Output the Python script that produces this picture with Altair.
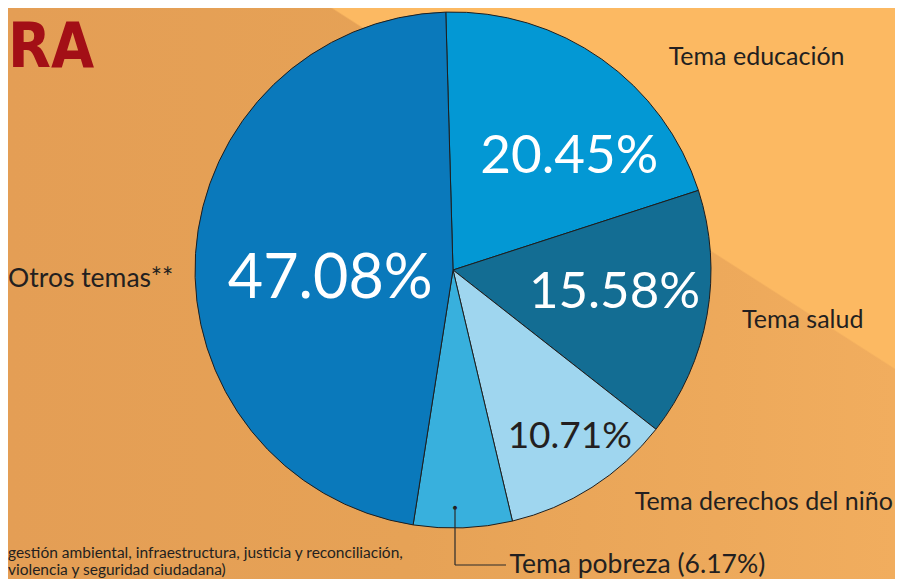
import math
import altair as alt
import pandas as pd

# ---------------- data ----------------
categories = ["Tema educación", "Tema salud", "Tema derechos del niño", "Tema pobreza", "Otros temas**"]
values = [20.45, 15.58, 10.71, 6.17, 47.08]
slice_colors = ["#0398d4", "#136d93", "#9fd6ef", "#38b0dd", "#0a79bb"]
footnote_1 = "gestión ambiental, infraestructura, justicia y reconciliación,"
footnote_2 = "violencia y seguridad ciudadana)"
title_text = "RA"

# ---------------- layout ----------------
W, H = 887, 571
CX, CY = 445, 262
R = 258
START_DEG = -1.6
FONT = "Lato"
TITLE_FONT = "Liberation Sans Narrow, DejaVu Sans Condensed, Liberation Sans, DejaVu Sans, sans-serif"
DARK = "#231f20"

total = sum(values)
start = math.radians(START_DEG) + 2 * math.pi
theta_scale = alt.Scale(domain=[0, total], range=[start, start + 2 * math.pi])

outer_labels = [f"{c} ({v:.2f}%)" if c == "Tema pobreza" else c for c, v in zip(categories, values)]
df = pd.DataFrame({
    "category": categories,
    "value": values,
    "order": list(range(len(values))),
    "pct": [f"{v:.2f}%" for v in values],
    "outer": outer_labels,
    "dot": ["●"] * len(values),
})
one = pd.DataFrame({"k": [0]})

# (radius, dx, dy, fontSize, color)
pct_layout = {
    "Tema educación": (160, 24, 34, 53, "white"),
    "Tema salud": (160, 4, 10, 51, "white"),
    "Tema derechos del niño": (200, 9, 10, 37, DARK),
    "Otros temas**": (123, 0, 36, 61, "white"),
}
# (radius, dx, dy, align, fontSize)
outer_layout = {
    "Tema educación": (360, 96, 89, "center", 25),
    "Tema salud": (340, 15, -1, "center", 25),
    "Tema derechos del niño": (330, 133, -38, "center", 25),
    "Tema pobreza": (300, 45, 3, "left", 26.5),
    "Otros temas**": (362, -1, 40, "center", 26.5),
}


def polar_text(cat, field, radius, dx, dy, size, color, align="center", baseline="alphabetic"):
    return (
        alt.Chart(df)
        .transform_window(cum="sum(value)", sort=[alt.SortField("order")])
        .transform_calculate(mid="datum.cum - datum.value / 2")
        .transform_filter(alt.datum.category == cat)
        .mark_text(radius=radius, dx=dx, dy=dy, fontSize=size, color=color,
                   align=align, baseline=baseline, font=FONT)
        .encode(
            theta=alt.Theta("mid:Q", scale=theta_scale),
            text=alt.Text(f"{field}:N"),
            x=alt.value(CX),
            y=alt.value(CY),
        )
    )


layers = []

# background: horizontal tint + lighter diagonal band in the top-right
layers.append(
    alt.Chart(one).mark_rect(
        color=alt.LinearGradient(
            gradient="linear",
            stops=[alt.GradientStop(offset=0, color="#e49e55"),
                   alt.GradientStop(offset=0.45, color="#e6a256"),
                   alt.GradientStop(offset=1, color="#f1ad5e")],
            x1=0, x2=1, y1=0, y2=0,
        )
    ).encode(x=alt.value(0), x2=alt.value(W), y=alt.value(0), y2=alt.value(H))
)
layers.append(
    alt.Chart(one).mark_rect(
        color=alt.LinearGradient(
            gradient="linear",
            stops=[alt.GradientStop(offset=0, color="rgba(252,185,98,0)"),
                   alt.GradientStop(offset=0.005, color="#fcb962"),
                   alt.GradientStop(offset=1, color="#fcb962")],
            x1=0.6793, y1=0.3144, x2=1.0076, y2=-0.0154,
        )
    ).encode(x=alt.value(0), x2=alt.value(W), y=alt.value(0), y2=alt.value(H))
)

# title fragment
layers.append(
    alt.Chart(one).mark_text(text=title_text, align="left", baseline="alphabetic",
                             fontSize=62, fontWeight="bold", font=TITLE_FONT,
                             color="#a30f16")
    .encode(x=alt.value(0), y=alt.value(59))
)

# pie
layers.append(
    alt.Chart(df).mark_arc(radius=R, stroke="#1e1e1e", strokeWidth=1).encode(
        theta=alt.Theta("value:Q", stack=True, scale=theta_scale),
        color=alt.Color("category:N", scale=alt.Scale(domain=categories, range=slice_colors), legend=None),
        order=alt.Order("order:Q"),
        x=alt.value(CX),
        y=alt.value(CY),
    )
)

# percentage labels inside slices
for cat, (r, dx, dy, size, color) in pct_layout.items():
    layers.append(polar_text(cat, "pct", r, dx, dy, size, color))

# outer category labels
for cat, (r, dx, dy, align, size) in outer_layout.items():
    layers.append(polar_text(cat, "outer", r, dx, dy, size, DARK, align=align))

# leader for the small slice
layers.append(polar_text("Tema pobreza", "dot", 238, -7, 0, 8, DARK, baseline="middle"))
layers.append(alt.Chart(one).mark_rule(color="#2a2a2a", strokeWidth=1.2)
              .encode(x=alt.value(447), y=alt.value(500), y2=alt.value(557)))
layers.append(alt.Chart(one).mark_rule(color="#2a2a2a", strokeWidth=1.2)
              .encode(x=alt.value(447), x2=alt.value(498), y=alt.value(557)))

# footnote
layers.append(alt.Chart(one).mark_text(text=footnote_1, align="left", baseline="alphabetic",
                                       fontSize=15.5, font=FONT, color=DARK)
              .encode(x=alt.value(0), y=alt.value(550)))
layers.append(alt.Chart(one).mark_text(text=footnote_2, align="left", baseline="alphabetic",
                                       fontSize=15.5, font=FONT, color=DARK)
              .encode(x=alt.value(0), y=alt.value(567)))

chart = alt.layer(*layers).properties(
    width=W, height=H, padding=0,
    autosize=alt.AutoSizeParams(type="none"),
    background="#e49e55",
).configure_view(stroke=None)

chart.save("out.html", embed_options={"renderer": "svg", "actions": False})
